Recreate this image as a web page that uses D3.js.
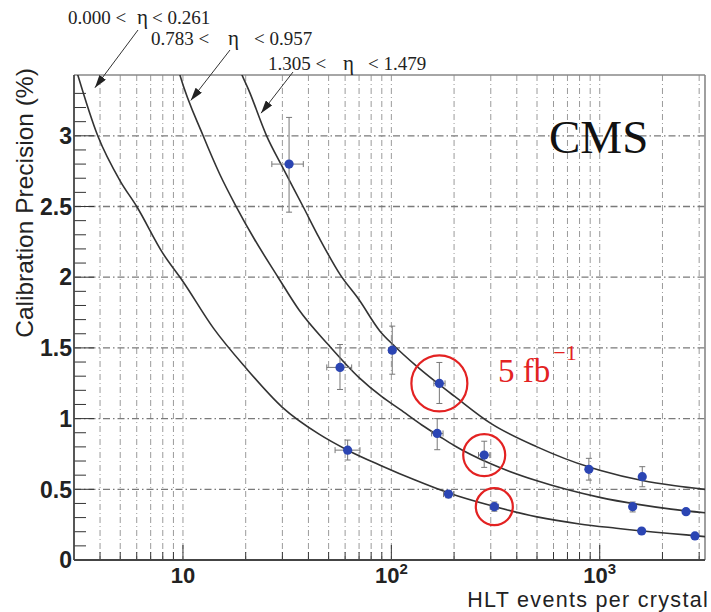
<!DOCTYPE html>
<html><head><meta charset="utf-8">
<script src="https://cdn.jsdelivr.net/npm/d3@7"></script>
<style>body{margin:0;background:#fff} svg{display:block}</style>
</head><body>
<svg id="chart" width="711" height="612"></svg>
<script>
// ---------- data ----------
const xDomain = [3, 3200];
const yDomain = [0, 3.43];
const yTickValues = [0, 0.5, 1, 1.5, 2, 2.5, 3];
const yTickLabels = ["0", "0.5", "1", "1.5", "2", "2.5", "3"];
const xMajorValues = [10, 100, 1000];
const xMajorBase = ["10", "10", "10"];
const xMajorExp = ["", "2", "3"];

// fitted curves
const curve1N = [3.0, 3.9, 5, 6, 8, 10, 14, 20, 30, 45, 62, 90, 130, 190, 300, 500, 800, 1200, 1800, 2600, 3300];
const curve1V = [3.52, 3.0, 2.68, 2.5, 2.17, 1.97, 1.64, 1.36, 1.08, 0.89, 0.775, 0.665, 0.565, 0.472, 0.385, 0.305, 0.255, 0.225, 0.198, 0.178, 0.163];
const curve2N = [9.0, 9.67, 12.5, 15, 18, 22, 28.6, 36, 50, 70, 90, 110, 140, 170, 200, 300, 500, 1000, 1500, 2200, 3300];
const curve2V = [3.6, 3.43, 3.0, 2.73, 2.5, 2.27, 2.0, 1.77, 1.52, 1.29, 1.155, 1.065, 0.955, 0.875, 0.81, 0.68, 0.56, 0.443, 0.395, 0.36, 0.332];
const curve3N = [17, 18.4, 21, 25.2, 30, 37.7, 45, 56.7, 70, 88, 104, 130, 170, 200, 300, 500, 890, 1000, 1600, 2300, 3300];
const curve3V = [3.66, 3.5, 3.3, 3.0, 2.78, 2.5, 2.28, 2.02, 1.84, 1.62, 1.51, 1.38, 1.24, 1.16, 0.966, 0.8, 0.657, 0.635, 0.562, 0.525, 0.497];

// measured points with errors
const pts1N   = [61.7, 188, 312, 1589, 2864];
const pts1V   = [0.777, 0.466, 0.377, 0.205, 0.170];
const pts1NLo = [53.7, 178, 298, 1550, 2800];
const pts1NHi = [70.7, 199, 327, 1630, 2930];
const pts1VLo = [0.707, 0.44, 0.345, 0.19, 0.157];
const pts1VHi = [0.848, 0.49, 0.41, 0.22, 0.183];

const pts2N   = [56.7, 166, 279, 1439, 2595];
const pts2V   = [1.362, 0.895, 0.742, 0.377, 0.342];
const pts2NLo = [49, 156, 262, 1400, 2530];
const pts2NHi = [64.5, 177, 297, 1480, 2660];
const pts2VLo = [1.206, 0.78, 0.655, 0.34, 0.322];
const pts2VHi = [1.524, 1.0, 0.84, 0.41, 0.362];

const pts3N   = [32.3, 101, 170, 887, 1600];
const pts3V   = [2.80, 1.484, 1.249, 0.641, 0.589];
const pts3NLo = [26.7, 97, 160, 870, 1570];
const pts3NHi = [37.8, 105, 181, 905, 1630];
const pts3VLo = [2.46, 1.314, 1.107, 0.565, 0.518];
const pts3VHi = [3.13, 1.654, 1.397, 0.719, 0.66];

// highlighted (5 fb^-1) points
const circN = [170, 279, 312];
const circV = [1.249, 0.742, 0.377];

// eta range labels and arrow targets
const etaLo = ["0.000", "0.783", "1.305"];
const etaHi = ["0.261", "0.957", "1.479"];
const arrowTipN = [3.78, 10.9, 23.7];
const arrowTipV = [3.34, 3.25, 3.16];

// ---------- layout ----------
const L = {left: 74, right: 705, top: 75, bottom: 560};
const labelPos = [ // pieces: start-x of "lo <", eta, "< hi", baseline
  {a: 68, e: 137, b: 152, y: 24},
  {a: 151, e: 228, b: 254, y: 45},
  {a: 268, e: 343, b: 368, y: 70}
];
const arrowTail = [[138, 30], [230, 50], [293, 72]];

const svg = d3.select("#chart");
const x = d3.scaleLog().domain(xDomain).range([L.left, L.right]);
const y = d3.scaleLinear().domain(yDomain).range([L.bottom, L.top]);

const defs = svg.append("defs");
defs.append("clipPath").attr("id", "clip").append("rect")
  .attr("x", L.left).attr("y", L.top).attr("width", L.right - L.left).attr("height", L.bottom - L.top);
defs.append("marker").attr("id", "arr").attr("markerUnits", "userSpaceOnUse")
  .attr("markerWidth", 13).attr("markerHeight", 8).attr("refX", 13).attr("refY", 4)
  .attr("orient", "auto")
  .append("path").attr("d", "M0,0 L13,4 L0,8 Z").attr("fill", "#222");

// grid
const xTicksAll = x.ticks().filter(v => v > xDomain[0] * 1.01 && v < xDomain[1]);
const gGrid = svg.append("g");
gGrid.selectAll("line.vg").data(xTicksAll).join("line")
  .attr("x1", d => x(d)).attr("x2", d => x(d)).attr("y1", L.top).attr("y2", L.bottom)
  .attr("stroke", "#9a9a9a").attr("stroke-width", 1).attr("stroke-dasharray", "6,3,1,3");
gGrid.selectAll("line.hg").data(yTickValues.filter(v => v > 0)).join("line")
  .attr("x1", L.left).attr("x2", L.right).attr("y1", d => y(d)).attr("y2", d => y(d))
  .attr("stroke", "#7a7a7a").attr("stroke-width", 1.3).attr("stroke-dasharray", "7,3,1.5,3");

// axes ticks
const yMinor = d3.range(0, 34).map(i => +(i * 0.1).toFixed(1)).filter(v => Math.round(v * 10) % 5 !== 0);
const gAx = svg.append("g").attr("stroke", "#333").attr("stroke-width", 1);
gAx.selectAll("line.ym").data(yMinor).join("line")
  .attr("x1", L.left).attr("x2", L.left + 12).attr("y1", d => y(d)).attr("y2", d => y(d));
gAx.selectAll("line.yM").data(yTickValues).join("line")
  .attr("x1", L.left).attr("x2", L.left + 20).attr("y1", d => y(d)).attr("y2", d => y(d));
gAx.selectAll("line.xt").data(xTicksAll).join("line")
  .attr("x1", d => x(d)).attr("x2", d => x(d)).attr("y1", L.bottom)
  .attr("y2", d => L.bottom - (xMajorValues.includes(d) ? 15 : 8));

// frame
svg.append("line").attr("x1", L.left).attr("x2", L.right).attr("y1", L.top).attr("y2", L.top)
  .attr("stroke", "#888").attr("stroke-width", 1.6);
svg.append("line").attr("x1", L.right).attr("x2", L.right).attr("y1", L.top).attr("y2", L.bottom)
  .attr("stroke", "#888").attr("stroke-width", 1.6);
svg.append("line").attr("x1", L.left).attr("x2", L.left).attr("y1", L.top).attr("y2", L.bottom)
  .attr("stroke", "#444").attr("stroke-width", 1.8);
svg.append("line").attr("x1", L.left).attr("x2", L.right).attr("y1", L.bottom).attr("y2", L.bottom)
  .attr("stroke", "#444").attr("stroke-width", 1.8);

// tick labels
const tickFont = "'Liberation Sans', Arial, Helvetica, sans-serif";
svg.append("g").selectAll("text").data(yTickValues).join("text")
  .attr("x", 72).attr("y", d => y(d)).attr("dy", "0.36em").attr("text-anchor", "end")
  .attr("font-family", tickFont).attr("font-size", 23).attr("font-weight", "bold").attr("fill", "#222")
  .text((d, i) => yTickLabels[i]);
const xl = svg.append("g").selectAll("text").data(xMajorValues).join("text")
  .attr("x", d => x(d)).attr("y", 583).attr("text-anchor", "middle")
  .attr("font-family", tickFont).attr("font-size", 22).attr("font-weight", "bold").attr("fill", "#222");
xl.append("tspan").text((d, i) => xMajorBase[i]);
xl.append("tspan").attr("font-size", 15).attr("dy", -9).text((d, i) => xMajorExp[i]);

// axis titles
svg.append("text").attr("transform", "translate(33,203) rotate(-90)").attr("text-anchor", "middle")
  .attr("font-family", tickFont).attr("font-size", 24.5).attr("fill", "#222")
  .text("Calibration Precision (%)");
svg.append("text").attr("x", 709).attr("y", 607).attr("text-anchor", "end")
  .attr("font-family", tickFont).attr("font-size", 21.5).attr("letter-spacing", 1.3).attr("fill", "#222")
  .text("HLT events per crystal");

// curves
const line = d3.line().x(d => x(d[0])).y(d => y(d[1])).curve(d3.curveMonotoneX);
const gC = svg.append("g").attr("clip-path", "url(#clip)");
[[curve1N, curve1V], [curve2N, curve2V], [curve3N, curve3V]].forEach(([ns, vs]) => {
  gC.append("path").datum(ns.map((n, i) => [n, vs[i]])).attr("d", line)
    .attr("fill", "none").attr("stroke", "#333").attr("stroke-width", 1.6);
});

// points with error bars
const series = [
  [pts1N, pts1V, pts1NLo, pts1NHi, pts1VLo, pts1VHi],
  [pts2N, pts2V, pts2NLo, pts2NHi, pts2VLo, pts2VHi],
  [pts3N, pts3V, pts3NLo, pts3NHi, pts3VLo, pts3VHi]
];
const gP = svg.append("g");
series.forEach(([ns, vs, nlo, nhi, vlo, vhi]) => {
  const data = ns.map((n, i) => ({n, v: vs[i], nlo: nlo[i], nhi: nhi[i], vlo: vlo[i], vhi: vhi[i]}));
  const g = gP.append("g").attr("stroke", "#777").attr("stroke-width", 1);
  g.selectAll("line.ev").data(data).join("line")
    .attr("x1", d => x(d.n)).attr("x2", d => x(d.n)).attr("y1", d => y(d.vlo)).attr("y2", d => y(d.vhi));
  g.selectAll("line.eh").data(data).join("line")
    .attr("x1", d => x(d.nlo)).attr("x2", d => x(d.nhi)).attr("y1", d => y(d.v)).attr("y2", d => y(d.v));
  g.selectAll("line.cv1").data(data).join("line")
    .attr("x1", d => x(d.n) - 3).attr("x2", d => x(d.n) + 3).attr("y1", d => y(d.vlo)).attr("y2", d => y(d.vlo));
  g.selectAll("line.cv2").data(data).join("line")
    .attr("x1", d => x(d.n) - 3).attr("x2", d => x(d.n) + 3).attr("y1", d => y(d.vhi)).attr("y2", d => y(d.vhi));
  g.selectAll("line.ch1").data(data).join("line")
    .attr("x1", d => x(d.nlo)).attr("x2", d => x(d.nlo)).attr("y1", d => y(d.v) - 3).attr("y2", d => y(d.v) + 3);
  g.selectAll("line.ch2").data(data).join("line")
    .attr("x1", d => x(d.nhi)).attr("x2", d => x(d.nhi)).attr("y1", d => y(d.v) - 3).attr("y2", d => y(d.v) + 3);
  gP.append("g").selectAll("circle").data(data).join("circle")
    .attr("cx", d => x(d.n)).attr("cy", d => y(d.v)).attr("r", 4.6).attr("fill", "#2b45b3");
});

// red highlight circles
const circR = [28, 21, 18.5];
svg.append("g").selectAll("circle").data(circN).join("circle")
  .attr("cx", d => x(d)).attr("cy", (d, i) => y(circV[i])).attr("r", (d, i) => circR[i])
  .attr("fill", "none").attr("stroke", "#e32222").attr("stroke-width", 2.2);

// 5 fb^-1
const serif = "'Liberation Serif', 'Times New Roman', Times, serif";
const lum = svg.append("text").attr("x", 498).attr("y", 382)
  .attr("font-family", serif).attr("font-size", 33).attr("fill", "#e32222");
lum.append("tspan").text("5 fb");
lum.append("tspan").attr("font-size", 22).attr("dx", 3).attr("dy", -22).text("\u22121");

// CMS
svg.append("text").attr("x", 549).attr("y", 153).attr("font-family", serif)
  .attr("font-size", 47).attr("fill", "#111").text("CMS");

// eta labels
const gL = svg.append("g").attr("font-family", serif).attr("font-size", 19).attr("fill", "#222");
labelPos.forEach((p, i) => {
  gL.append("text").attr("x", p.a).attr("y", p.y).text(etaLo[i] + " <");
  gL.append("text").attr("x", p.e).attr("y", p.y).attr("font-size", 21).text("\u03b7");
  gL.append("text").attr("x", p.b).attr("y", p.y).text("< " + etaHi[i]);
});
// arrows
svg.append("g").selectAll("line").data(arrowTipN).join("line")
  .attr("x1", (d, i) => arrowTail[i][0]).attr("y1", (d, i) => arrowTail[i][1])
  .attr("x2", d => x(d)).attr("y2", (d, i) => y(arrowTipV[i]))
  .attr("stroke", "#333").attr("stroke-width", 1).attr("marker-end", "url(#arr)");
</script>
</body></html>
